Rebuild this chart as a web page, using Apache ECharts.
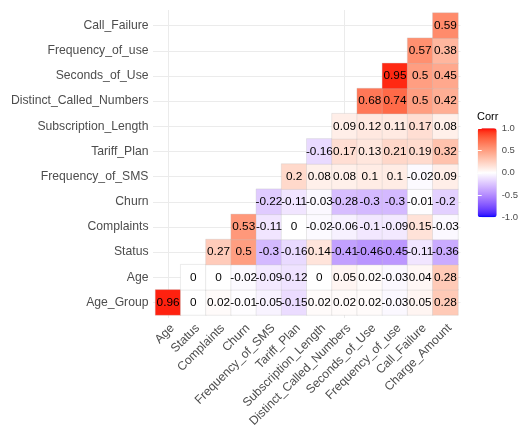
<!DOCTYPE html>
<html>
<head>
<meta charset="utf-8">
<script src="https://cdn.jsdelivr.net/npm/echarts@6/dist/echarts.min.js"></script>
<style>
  html, body { margin: 0; padding: 0; background: #fff; }
  #chart { width: 531px; height: 434px; }
</style>
</head>
<body>
<div id="chart"></div>
<script>
// column order (x) and row order (y, bottom -> top)
const xCats = ['Age', 'Status', 'Complaints', 'Churn', 'Frequency_of_SMS', 'Tariff_Plan',
  'Subscription_Length', 'Distinct_Called_Numbers', 'Seconds_of_Use', 'Frequency_of_use',
  'Call_Failure', 'Charge_Amount']
const yCats = ['Age_Group', 'Age', 'Status', 'Complaints', 'Churn', 'Frequency_of_SMS',
  'Tariff_Plan', 'Subscription_Length', 'Distinct_Called_Numbers', 'Seconds_of_Use',
  'Frequency_of_use', 'Call_Failure']

// each row starts at the column with the same index (lower triangle)
const rowAgeGroup = [0.96, 0, 0.02, -0.01, -0.05, -0.15, 0.02, 0.02, 0.02, -0.03, 0.05, 0.28]
const rowAge = [0, 0, -0.02, -0.09, -0.12, 0, 0.05, 0.02, -0.03, 0.04, 0.28]
const rowStatus = [0.27, 0.5, -0.3, -0.16, 0.14, -0.41, -0.46, -0.45, -0.11, -0.36]
const rowComplaints = [0.53, -0.11, 0, -0.02, -0.06, -0.1, -0.09, 0.15, -0.03]
const rowChurn = [-0.22, -0.11, -0.03, -0.28, -0.3, -0.3, -0.01, -0.2]
const rowSms = [0.2, 0.08, 0.08, 0.1, 0.1, -0.02, 0.09]
const rowTariff = [-0.16, 0.17, 0.13, 0.21, 0.19, 0.32]
const rowSubscription = [0.09, 0.12, 0.11, 0.17, 0.08]
const rowDistinct = [0.68, 0.74, 0.5, 0.42]
const rowSeconds = [0.95, 0.5, 0.45]
const rowFrequency = [0.57, 0.38]
const rowCallFailure = [0.59]

const rows = [rowAgeGroup, rowAge, rowStatus, rowComplaints, rowChurn, rowSms, rowTariff,
  rowSubscription, rowDistinct, rowSeconds, rowFrequency, rowCallFailure]

const cells = []
rows.forEach((row, y) => row.forEach((v, i) => cells.push([y + i, y, v])))

// blue - white - red gradient interpolated in Lab, like scale_fill_gradient2
const WP = [0.95047, 1, 1.08883]
const lin = (c) => { c /= 255; return c <= 0.04045 ? c / 12.92 : Math.pow((c + 0.055) / 1.055, 2.4) }
const unlin = (c) => {
  c = c <= 0.0031308 ? 12.92 * c : 1.055 * Math.pow(c, 1 / 2.4) - 0.055
  return Math.round(Math.max(0, Math.min(1, c)) * 255)
}
const f = (t) => t > 0.008856 ? Math.cbrt(t) : 7.787 * t + 16 / 116
const fi = (t) => t > 0.206893 ? t * t * t : (t - 16 / 116) / 7.787
function toLab([r, g, b]) {
  const R = lin(r), G = lin(g), B = lin(b)
  const X = 0.4124 * R + 0.3576 * G + 0.1805 * B
  const Y = 0.2126 * R + 0.7152 * G + 0.0722 * B
  const Z = 0.0193 * R + 0.1192 * G + 0.9505 * B
  const fx = f(X / WP[0]), fy = f(Y / WP[1]), fz = f(Z / WP[2])
  return [116 * fy - 16, 500 * (fx - fy), 200 * (fy - fz)]
}
function toRgb([L, a, b]) {
  const fy = (L + 16) / 116, fx = fy + a / 500, fz = fy - b / 200
  const X = fi(fx) * WP[0], Y = fi(fy) * WP[1], Z = fi(fz) * WP[2]
  const R = 3.2406 * X - 1.5372 * Y - 0.4986 * Z
  const G = -0.9689 * X + 1.8758 * Y + 0.0415 * Z
  const B = 0.0557 * X - 0.2040 * Y + 1.0570 * Z
  return 'rgb(' + unlin(R) + ',' + unlin(G) + ',' + unlin(B) + ')'
}
function gradient(from, to, n) {
  const a = toLab(from), b = toLab(to)
  const out = []
  for (let i = 0; i <= n; i++) {
    const t = i / n
    out.push(toRgb(a.map((v, k) => v + (b[k] - v) * t)))
  }
  return out
}
const palette = gradient([0, 0, 255], [255, 255, 255], 20)
  .concat(gradient([255, 255, 255], [255, 0, 0], 20).slice(1))

const font = 'Liberation Sans, Arial, sans-serif'
const grey = '#4d4d4d'
const gridLine = { show: true, lineStyle: { color: '#ebebeb', width: 1 } }
const hidden = { axisLine: { show: false }, axisTick: { show: false }, axisLabel: { show: false }, splitLine: { show: false } }

// panel geometry
const P = { left: 155.5, top: 13, width: 302.5, height: 302 }
const cw = P.width / 12, ch = P.height / 12

const chart = echarts.init(document.getElementById('chart'), null, { renderer: 'canvas' })
chart.setOption({
  backgroundColor: '#fff',
  animation: false,
  textStyle: { fontFamily: font },
  title: {
    text: 'Corr', left: 477, top: 111, padding: 0,
    textStyle: { fontSize: 11, fontWeight: 'normal', color: '#000', fontFamily: font }
  },
  grid: [
    { left: P.left, top: P.top, width: P.width, height: P.height },
    // vertical grid lines at column centres
    { left: P.left + cw / 2, top: P.top - 3, width: P.width - cw, height: P.height + 6 },
    // horizontal grid lines at row centres
    { left: P.left - 2.5, top: P.top + ch / 2, width: P.width + 5, height: P.height - ch },
    // colour bar scale
    { left: 477.7, top: 128.3, width: 19, height: 89 }
  ],
  xAxis: [
    {
      gridIndex: 0, type: 'category', data: xCats, boundaryGap: true,
      axisLine: { show: false }, axisTick: { show: false }, splitLine: { show: false },
      axisLabel: {
        rotate: 45, margin: 7, verticalAlign: 'top', color: grey, fontSize: 12.2,
        fontFamily: font, interval: 0
      }
    },
    { gridIndex: 1, type: 'category', data: xCats, boundaryGap: false, ...hidden, splitLine: gridLine },
    { gridIndex: 2, type: 'value', ...hidden },
    { gridIndex: 3, type: 'value', ...hidden }
  ],
  yAxis: [
    {
      gridIndex: 0, type: 'category', data: yCats, boundaryGap: true,
      axisLine: { show: false }, axisTick: { show: false }, splitLine: { show: false },
      axisLabel: { margin: 7, color: grey, fontSize: 12.2, fontFamily: font, interval: 0 }
    },
    { gridIndex: 1, type: 'value', ...hidden },
    { gridIndex: 2, type: 'category', data: yCats, boundaryGap: false, ...hidden, splitLine: gridLine },
    {
      gridIndex: 3, type: 'value', min: -1, max: 1, interval: 0.5, position: 'right', z: 10,
      axisLine: { show: false }, splitLine: { show: false },
      axisTick: { show: true, inside: true, length: 4, lineStyle: { color: '#fff', width: 1 } },
      axisLabel: { margin: 5, color: grey, fontSize: 9.5, fontFamily: font, formatter: (v) => v.toFixed(1) }
    },
    {
      gridIndex: 3, type: 'value', min: -1, max: 1, interval: 0.5, position: 'left', z: 10,
      axisLine: { show: false }, splitLine: { show: false }, axisLabel: { show: false },
      axisTick: { show: true, inside: true, length: 4, lineStyle: { color: '#fff', width: 1 } }
    }
  ],
  visualMap: {
    type: 'continuous', min: -1, max: 1, calculable: false, hoverLink: false,
    seriesIndex: 0, left: 477.7, top: 128.3, itemWidth: 19, itemHeight: 89, padding: 0,
    text: null, showLabel: false, inRange: { color: palette }
  },
  series: [{
    type: 'heatmap',
    xAxisIndex: 0,
    yAxisIndex: 0,
    data: cells,
    z: 3,
    itemStyle: { borderColor: 'rgba(190,190,190,0.6)', borderWidth: 0.5 },
    label: {
      show: true, color: '#000', fontSize: 11.8, fontFamily: font,
      formatter: (p) => String(p.value[2])
    },
    emphasis: { disabled: true }
  }]
})
</script>
</body>
</html>
